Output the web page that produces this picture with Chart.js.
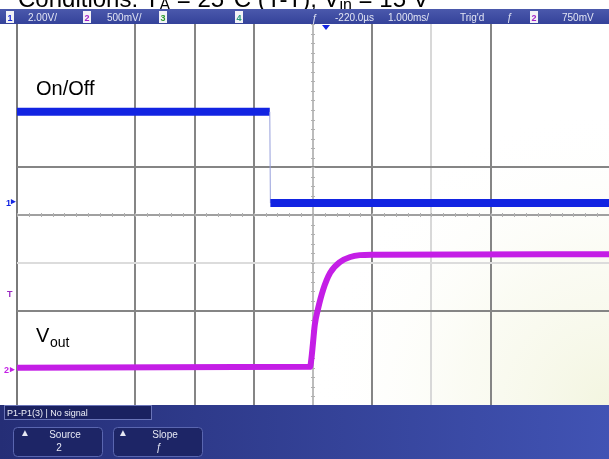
<!DOCTYPE html>
<html>
<head>
<meta charset="utf-8">
<script src="https://cdn.jsdelivr.net/npm/chart.js@4.4.1/dist/chart.umd.min.js"></script>
<style>
  html, body { margin: 0; padding: 0; background: #fff; }
  #wrap { width: 609px; height: 459px; }
</style>
</head>
<body>
<div id="wrap"><canvas id="scope" width="609" height="459"></canvas></div>
<script>
const onOffTime  = [0, 4.27, 4.28, 10];
const onOffLevel = [6.16, 6.16, 4.25, 4.25];

const voutTime  = [0, 4.95, 4.97, 5.00, 5.03, 5.08, 5.17, 5.29, 5.46, 5.63, 5.79, 6.01, 10];
const voutLevel = [0.80, 0.82, 0.96, 1.32, 1.70, 2.01, 2.43, 2.79, 3.02, 3.12, 3.16, 3.17, 3.18];

// grid lines that are actually visible on the screenshot
const gridTimeDiv  = [0, 1, 2, 3, 4, 5, 6, 7, 8, 9, 10];
const gridLevelDiv = [0, 1, 2, 3, 4, 5, 6, 7, 8];

const headerLabels = ['2.00V/', '500mV/', '-220.0\u00b5s', '1.000ms/', "Trig'd", '750mV'];

const vShade = { 0: '#7a7a7a', 2: '#858585', 3: '#858585', 4: '#858585', 5: '#bcbcbc', 6: '#858585', 7: '#d8d8d8', 8: '#858585' };
const hShade = { 2: '#858585', 3: '#dcdcdc', 4: '#a0a0a0', 5: '#858585' };

const BLUE = '#1224e2';
const PURPLE = '#c41ee6';

function pts(xs, ys) {
	return xs.map((x, i) => ({ x: x, y: ys[i] }));
}

// white screen with the yellowish cast in the lower right
const screenBg = {
	id: 'screenBg',
	beforeDraw(chart) {
		const { ctx, chartArea: a } = chart;
		ctx.save();
		ctx.fillStyle = '#fff';
		ctx.fillRect(0, 0, chart.width, chart.height);
		const g = ctx.createRadialGradient(a.right, a.bottom, 0, a.right, a.bottom, 300);
		g.addColorStop(0, '#f3f5e0');
		g.addColorStop(0.5, 'rgba(248,249,236,0.6)');
		g.addColorStop(1, 'rgba(255,255,255,0)');
		ctx.fillStyle = g;
		ctx.fillRect(a.left, a.top, a.right - a.left, a.bottom - a.top);
		ctx.restore();
	}
};

// small division marks on the centre lines
const minorTicks = {
	id: 'minorTicks',
	beforeDatasetsDraw(chart) {
		const { ctx } = chart;
		const xs = chart.scales.x, ys = chart.scales.y;
		const cy = ys.getPixelForValue(4), cx = xs.getPixelForValue(5);
		ctx.save();
		ctx.strokeStyle = '#b0b0b0';
		ctx.lineWidth = 1;
		ctx.beginPath();
		for (let i = 0; i <= 50; i++) {
			const x = Math.round(xs.getPixelForValue(i / 5)) + 0.5;
			ctx.moveTo(x, cy - 2);
			ctx.lineTo(x, cy + 2);
		}
		for (let j = 0; j <= 40; j++) {
			const y = Math.round(ys.getPixelForValue(j / 5)) + 0.5;
			ctx.moveTo(cx - 2, y);
			ctx.lineTo(cx + 2, y);
		}
		ctx.stroke();
		ctx.restore();
	}
};

function chanBox(ctx, x, txt, col) {
	ctx.fillStyle = '#f2f2f6';
	ctx.fillRect(x, 11, 8, 12);
	ctx.fillStyle = col;
	ctx.font = 'bold 9px Arial';
	ctx.textAlign = 'center';
	ctx.fillText(txt, x + 4, 21);
	ctx.textAlign = 'left';
}

function button(ctx, x, top, bottom, arrowX) {
	ctx.fillStyle = '#1d2566';
	ctx.strokeStyle = '#5a66b0';
	ctx.lineWidth = 1;
	ctx.beginPath();
	ctx.roundRect(x + 0.5, 427.5, 89, 29, 4);
	ctx.fill();
	ctx.stroke();
	ctx.fillStyle = '#e6e8f4';
	ctx.font = '10px Arial';
	ctx.fillText('\u25b2', arrowX, 436);
	ctx.textAlign = 'center';
	ctx.fillText(top, x + 52, 438);
	ctx.fillText(bottom, x + 46, 451);
	ctx.textAlign = 'left';
}

const scopeDecor = {
	id: 'scopeDecor',
	afterDraw(chart) {
		const { ctx } = chart;
		ctx.save();

		// clipped caption above the screen
		ctx.fillStyle = '#000';
		ctx.textBaseline = 'alphabetic';
		let x = 18;
		const part = (t, size, base) => {
			ctx.font = size + 'px Arial';
			ctx.fillText(t, x, base);
			x += ctx.measureText(t).width;
		};
		part('Conditions: T', 24, 7);
		part('A', 16, 10);
		part(' = 25\u00b0C (Y-T), V', 24, 7);
		part('in', 16, 10);
		part(' = 15 V', 24, 7);

		// status bar
		const hg = ctx.createLinearGradient(0, 9, 0, 24);
		hg.addColorStop(0, '#4b59ac');
		hg.addColorStop(1, '#34429a');
		ctx.fillStyle = hg;
		ctx.fillRect(0, 9, chart.width, 15);
		chanBox(ctx, 6, '1', '#1a2ad8');
		chanBox(ctx, 83, '2', '#a020c8');
		chanBox(ctx, 159, '3', '#2a9a2a');
		chanBox(ctx, 235, '4', '#2a9a7a');
		chanBox(ctx, 530, '2', '#a020c8');
		ctx.fillStyle = '#e2e5f4';
		ctx.font = '10px Arial';
		const hx = [28, 107, 335, 388, 460, 562];
		headerLabels.forEach((t, i) => ctx.fillText(t, hx[i], 21));
		ctx.fillText('\u0192', 507, 21);
		ctx.fillText('\u0192', 312, 22);

		// trigger position marker
		ctx.fillStyle = BLUE;
		ctx.beginPath();
		ctx.moveTo(322, 25);
		ctx.lineTo(330, 25);
		ctx.lineTo(326, 30);
		ctx.closePath();
		ctx.fill();

		// channel ground markers on the left edge
		ctx.font = 'bold 9px Arial';
		ctx.fillStyle = BLUE;
		ctx.fillText('1', 6, 206);
		ctx.fillText('\u25b8', 11, 204);
		ctx.fillStyle = '#9a2ac0';
		ctx.fillText('T', 7, 297);
		ctx.fillStyle = PURPLE;
		ctx.fillText('2', 4, 373);
		ctx.fillText('\u25b8', 10, 372);

		// trace labels
		ctx.fillStyle = '#000';
		ctx.font = '20px Arial';
		ctx.fillText('On/Off', 36, 95);
		ctx.fillText('V', 36, 342);
		ctx.font = '14px Arial';
		ctx.fillText('out', 50, 347);

		// soft-key panel
		const fg = ctx.createLinearGradient(0, 0, chart.width, 0);
		fg.addColorStop(0, '#252e76');
		fg.addColorStop(1, '#4153b4');
		ctx.fillStyle = fg;
		ctx.fillRect(0, 405, chart.width, 54);
		ctx.fillStyle = '#1a2160';
		ctx.fillRect(4, 405, 148, 15);
		ctx.strokeStyle = '#6a74b8';
		ctx.lineWidth = 1;
		ctx.strokeRect(4.5, 405.5, 147, 14);
		ctx.fillStyle = '#eef0f8';
		ctx.font = '9px Arial';
		ctx.fillText('P1-P1(3) | No signal', 7, 416);
		button(ctx, 13, 'Source', '2', 20);
		button(ctx, 113, 'Slope', '\u0192', 118);

		ctx.restore();
	}
};

window.onload = () => {
	const canvas = document.getElementById('scope');
	new Chart(canvas.getContext('2d'), {
		type: 'line',
		data: {
			datasets: [{
				label: 'On/Off',
				data: pts(onOffTime, onOffLevel),
				borderColor: BLUE,
				borderWidth: 8,
				pointRadius: 0,
				tension: 0,
				segment: {
					borderWidth: c => c.p0DataIndex === 1 ? 1 : 8,
					borderColor: c => c.p0DataIndex === 1 ? '#97a0dc' : BLUE
				}
			}, {
				label: 'Vout',
				data: pts(voutTime, voutLevel),
				borderColor: PURPLE,
				borderWidth: 6,
				pointRadius: 0,
				cubicInterpolationMode: 'monotone'
			}]
		},
		options: {
			responsive: false,
			animation: false,
			events: [],
			layout: { padding: { left: 17, top: 24, right: 0, bottom: 53 } },
			scales: {
				x: {
					type: 'linear',
					min: 0,
					max: 10,
					afterBuildTicks: s => { s.ticks = gridTimeDiv.map(v => ({ value: v })); },
					ticks: { display: false },
					border: { display: false },
					grid: {
						drawTicks: false,
						lineWidth: 2,
						color: c => vShade[c.tick.value] || 'rgba(0,0,0,0)'
					}
				},
				y: {
					type: 'linear',
					min: 0,
					max: 8,
					afterBuildTicks: s => { s.ticks = gridLevelDiv.map(v => ({ value: v })); },
					ticks: { display: false },
					border: { display: false },
					grid: {
						drawTicks: false,
						lineWidth: 2,
						color: c => hShade[c.tick.value] || 'rgba(0,0,0,0)'
					}
				}
			},
			plugins: {
				legend: { display: false },
				tooltip: { enabled: false }
			}
		},
		plugins: [screenBg, minorTicks, scopeDecor]
	});
};
</script>
</body>
</html>
